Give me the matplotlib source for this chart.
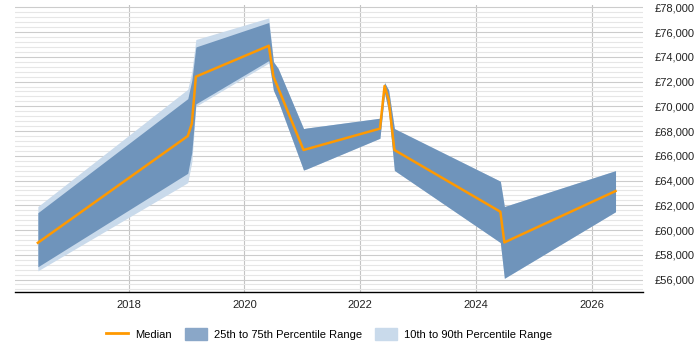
import numpy as np
import matplotlib.pyplot as plt
from matplotlib.lines import Line2D
from matplotlib.patches import Patch
from matplotlib.ticker import FuncFormatter, MultipleLocator

plt.rcParams['font.family'] = ['Liberation Sans', 'DejaVu Sans']

# decimal years of each sample
years = [2016.43, 2019.02, 2019.09, 2019.16, 2020.42, 2020.50, 2020.58, 2021.02,
         2021.08, 2022.34, 2022.42, 2022.49, 2022.59, 2024.42, 2024.49, 2026.41]

median = [58970, 67600, 68600, 72400, 74900, 72400, 71500, 66470,
          66550, 68200, 71650, 70550, 66470, 61480, 59000, 63150]
p25 = [57030, 64590, 66300, 70200, 73700, 71300, 70450, 64850,
       64950, 67420, 71060, 69600, 64820, 58990, 56100, 61480]
p75 = [61400, 70620, 72100, 74800, 76780, 73600, 73080, 68200,
       68250, 69040, 71920, 71330, 68200, 63950, 61900, 64800]
p10 = [56700, 63830, 65500, 70000, 73500, 71300, 70450, 64850,
       64950, 67420, 71060, 69600, 64820, 58990, 56100, 61480]
p90 = [61900, 71380, 72800, 75400, 77150, 73600, 73080, 68200,
       68250, 69040, 71920, 71330, 68200, 63950, 61900, 64800]

xticks = [2018, 2020, 2022, 2024, 2026]

c_med = '#ff9900'
c_iqr = '#6f94bb'
c_dec = '#c9daeb'

fig = plt.figure(figsize=(7, 3.5), dpi=100)
ax = fig.add_axes([0.021, 0.166, 0.898, 0.82])

ax.fill_between(years, p10, p90, color=c_dec, lw=0, zorder=2)
ax.fill_between(years, p25, p75, color=c_iqr, lw=0, zorder=3)
ax.plot(years, median, color=c_med, lw=1.8, zorder=4)

ax.set_xlim(2016.03, 2026.89)
ax.set_ylim(55000, 78200)

ax.set_xticks(xticks)
ax.set_xticklabels([str(x) for x in xticks])
ax.yaxis.set_major_locator(MultipleLocator(2000))
ax.yaxis.set_minor_locator(MultipleLocator(400))
ax.yaxis.set_major_formatter(FuncFormatter(lambda v, p: '£{:,.0f}'.format(v)))
ax.yaxis.tick_right()

ax.grid(axis='y', which='major', color='#cccccc', lw=0.8, zorder=0)
ax.grid(axis='y', which='minor', color='#e6e6e6', lw=0.8, zorder=0)
ax.grid(axis='x', which='major', color='#c4c4c4', lw=0.8, zorder=0)

ax.tick_params(axis='both', which='both', length=0, labelsize=8, colors='#222222')
ax.tick_params(axis='y', pad=8)
ax.tick_params(axis='x', pad=6)

for s in ['top', 'left', 'right']:
    ax.spines[s].set_visible(False)
ax.spines['bottom'].set_color('black')
ax.spines['bottom'].set_linewidth(1)

handles = [Line2D([], [], color=c_med, lw=2),
           Patch(color='#8aa7c8'),
           Patch(color=c_dec)]
labels = ['Median', '25th to 75th Percentile Range', '10th to 90th Percentile Range']
fig.legend(handles, labels, loc='center', bbox_to_anchor=(0.47, 0.046), ncol=3,
           frameon=False, fontsize=8, handlelength=2.0, handleheight=1.2,
           columnspacing=1.2, handletextpad=0.6)

fig.savefig('out.png', dpi=100)
